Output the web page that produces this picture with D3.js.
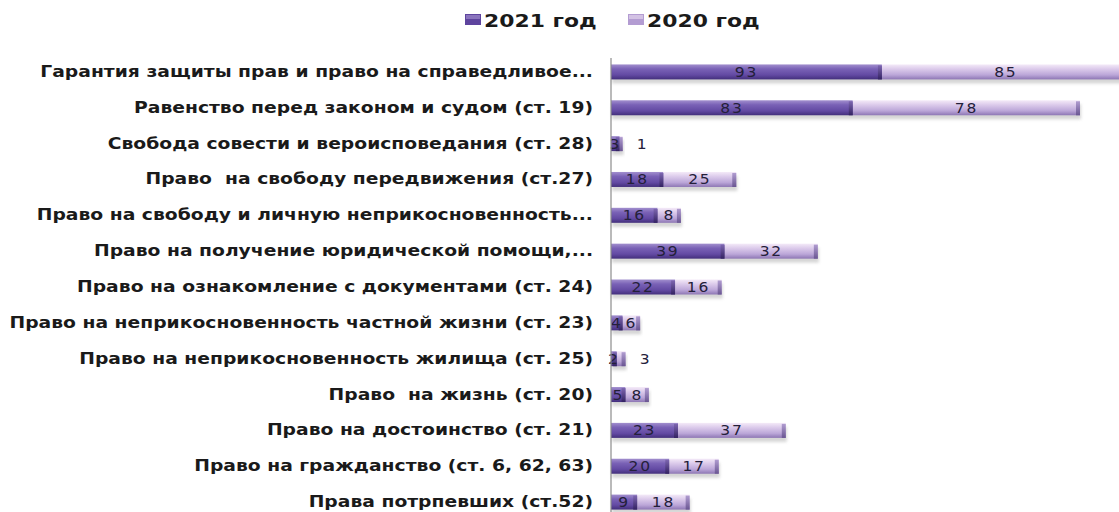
<!DOCTYPE html>
<html><head><meta charset="utf-8">
<script src="https://cdn.jsdelivr.net/npm/d3@7"></script>
<style>body{margin:0;background:#fff}svg{display:block}</style>
</head><body>
<svg id="c" width="1119" height="512"></svg>
<script>
const categories = [
 "Гарантия защиты прав и право на справедливое...",
 "Равенство перед законом и судом (ст. 19)",
 "Свобода совести и вероисповедания (ст. 28)",
 "Право  на свободу передвижения (ст.27)",
 "Право на свободу и личную неприкосновенность...",
 "Право на получение юридической помощи,...",
 "Право на ознакомление с документами (ст. 24)",
 "Право на неприкосновенность частной жизни (ст. 23)",
 "Право на неприкосновенность жилища (ст. 25)",
 "Право  на жизнь (ст. 20)",
 "Право на достоинство (ст. 21)",
 "Право на гражданство (ст. 6, 62, 63)",
 "Права потрпевших (ст.52)"
];
const series2021 = [93, 83, 3, 18, 16, 39, 22, 4, 2, 5, 23, 20, 9];
const series2020 = [85, 78, 1, 25, 8, 32, 16, 6, 3, 8, 37, 17, 18];
const seriesNames = ["2021 год", "2020 год"];

const svg = d3.select("#c");
const x0 = 611;
const x = d3.scaleLinear().domain([0, 161]).range([x0, 1080]);
const y = d3.scaleBand().domain(categories).range([54, 520]).padding(0);
const barH = 15;
const SX = 1.25;

const defs = svg.append("defs");
function grad(id, stops) {
  const g = defs.append("linearGradient").attr("id", id).attr("x1", 0).attr("y1", 0).attr("x2", 0).attr("y2", 1);
  stops.forEach(([o, c]) => g.append("stop").attr("offset", o).attr("stop-color", c));
}
grad("g21", [[0, "#a28fce"], [0.3, "#7a62b6"], [0.7, "#634aa3"], [1, "#432f7c"]]);
grad("g20", [[0, "#f4eaf8"], [0.3, "#dccbeb"], [0.7, "#bba6d8"], [1, "#8d76b4"]]);
grad("cap21", [[0, "#7d66b0"], [1, "#332262"]]);
grad("cap20", [[0, "#b09cd0"], [1, "#6a5692"]]);
const f = defs.append("filter").attr("id", "sh").attr("x", "-5%").attr("y", "-50%").attr("width", "110%").attr("height", "200%");
f.append("feGaussianBlur").attr("stdDeviation", 1.5);

// Legend
const leg = svg.append("g");
[[465, "#5e449e", "#a894d2", seriesNames[0]], [628, "#b39cd2", "#e8dcf0", seriesNames[1]]].forEach(([lx, c1, c2, t]) => {
  leg.append("rect").attr("x", lx).attr("y", 14).attr("width", 16).attr("height", 11).attr("fill", c1);
  leg.append("rect").attr("x", lx + 1).attr("y", 15).attr("width", 14).attr("height", 4).attr("fill", c2).attr("opacity", 0.6);
  leg.append("text").attr("transform", `translate(${lx + 19},26.5) scale(${SX},1)`)
    .attr("font-family", "DejaVu Sans").attr("font-weight", "bold")
    .attr("font-size", 17.5).attr("fill", "#1a1a1a").text(t);
});

const rows = categories.map((c, i) => ({c, a: series2021[i], b: series2020[i]}));

// shadows
svg.append("g").selectAll("rect").data(rows).join("rect")
  .attr("x", x0 + 1).attr("y", d => y(d.c) + (y.bandwidth() - barH) / 2 + 4)
  .attr("width", d => x(d.a + d.b) - x0).attr("height", barH)
  .attr("fill", "#888").attr("opacity", 0.35).attr("filter", "url(#sh)");

const segs = [];
rows.forEach(d => {
  const yy = y(d.c) + (y.bandwidth() - barH) / 2;
  segs.push({s: 0, x1: x(0), x2: x(d.a), y: yy, v: d.a});
  segs.push({s: 1, x1: x(d.a), x2: x(d.a + d.b), y: yy, v: d.b});
});
const bars = svg.append("g");
bars.selectAll("rect.seg").data(segs).join("rect").attr("class", "seg")
  .attr("x", d => d.x1).attr("y", d => d.y).attr("width", d => d.x2 - d.x1).attr("height", barH)
  .attr("fill", d => d.s ? "url(#g20)" : "url(#g21)");
bars.selectAll("rect.cap").data(segs).join("rect").attr("class", "cap")
  .attr("x", d => Math.max(d.x1, d.x2 - 4)).attr("y", d => d.y + 1).attr("width", d => Math.min(4, d.x2 - d.x1)).attr("height", barH - 1)
  .attr("fill", d => d.s ? "url(#cap20)" : "url(#cap21)");

// value labels
svg.append("g").selectAll("text").data(segs).join("text")
  .attr("transform", d => {
    const w = d.x2 - d.x1;
    const cx = (w < 10 && d.s) ? d.x2 + 20 : (d.x1 + d.x2) / 2;
    return `translate(${cx},${d.y + barH / 2 + 5}) scale(1.15,1)`;
  })
  .attr("text-anchor", "middle")
  .attr("font-family", "DejaVu Sans").attr("font-size", 13.5).attr("letter-spacing", 1.5)
  .attr("fill", "#24203a").text(d => d.v);

// category axis
svg.append("line").attr("x1", x0).attr("x2", x0).attr("y1", 58).attr("y2", 512).attr("stroke", "#8c8c8c").attr("stroke-width", 1.2);
svg.append("g").selectAll("text").data(categories).join("text")
  .attr("transform", c => `translate(593,${y(c) + y.bandwidth() / 2 + 5}) scale(${SX},1)`)
  .attr("text-anchor", "end").attr("font-family", "DejaVu Sans").attr("font-weight", "bold")
  .attr("font-size", 15).attr("fill", "#1a1a1a").style("white-space", "pre").text(c => c);
</script>
</body></html>
